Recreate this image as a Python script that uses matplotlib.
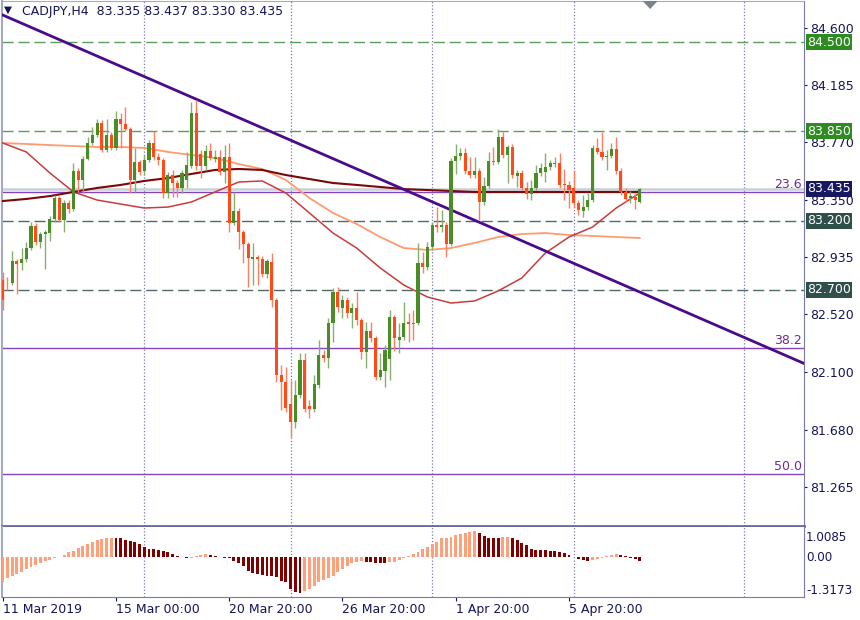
import matplotlib.pyplot as plt
from matplotlib.patches import Polygon

# CADJPY H4 candles, one value per bar (bar 0 = 11 Mar 2019 00:00)
opens = [
    82.770, 82.748, 82.745, 82.908, 82.893, 82.922, 83.002, 83.162, 83.046, 83.104,
    83.111, 83.213, 83.366, 83.206, 83.330, 83.286, 83.562, 83.497, 83.650, 83.766,
    83.824, 83.911, 83.715, 83.824, 83.730, 83.940, 83.904, 83.868, 83.497, 83.628,
    83.562, 83.642, 83.766, 83.664, 83.642, 83.402, 83.533, 83.475, 83.439, 83.497,
    83.599, 83.984, 83.686, 83.599, 83.708, 83.650, 83.664, 83.555, 83.664, 83.184,
    83.271, 83.119, 83.031, 82.922, 82.937, 82.922, 82.813, 82.900, 82.624, 82.079,
    82.028, 81.868, 81.737, 81.933, 82.188, 81.853, 81.831, 82.006, 82.224, 82.202,
    82.457, 82.682, 82.566, 82.624, 82.530, 82.566, 82.479, 82.246, 82.399, 82.348,
    82.064, 82.108, 82.195, 82.501, 82.333, 82.355, 82.464, 82.457, 82.457, 82.893,
    82.864, 83.010, 83.170, 83.155, 83.170, 83.031, 83.635, 83.671, 83.693, 83.562,
    83.533, 83.562, 83.337, 83.453, 83.635, 83.628, 83.810, 83.679, 83.737, 83.526,
    83.548, 83.439, 83.395, 83.439, 83.548, 83.555, 83.592, 83.613, 83.620, 83.468,
    83.461, 83.439, 83.330, 83.271, 83.300, 83.351, 83.730, 83.701, 83.664, 83.671,
    83.722, 83.562, 83.410, 83.366, 83.373, 83.335]
highs = [
    82.828, 82.791, 82.980, 82.922, 83.002, 83.046, 83.191, 83.184, 83.119, 83.133,
    83.235, 83.388, 83.380, 83.351, 83.351, 83.620, 83.584, 83.671, 83.810, 83.882,
    83.940, 83.933, 83.940, 83.846, 83.999, 83.984, 84.028, 83.882, 83.730, 83.642,
    83.679, 83.788, 83.853, 83.693, 83.657, 83.555, 83.570, 83.497, 83.570, 83.701,
    84.064, 84.079, 83.715, 83.751, 83.766, 83.715, 83.715, 83.751, 83.766, 83.410,
    83.293, 83.133, 83.046, 83.039, 82.951, 82.944, 82.922, 82.966, 82.639, 82.151,
    82.137, 82.042, 82.042, 82.239, 82.239, 81.897, 82.079, 82.333, 82.260, 82.493,
    82.711, 82.719, 82.660, 82.646, 82.602, 82.682, 82.493, 82.464, 82.464, 82.362,
    82.239, 82.297, 82.551, 82.515, 82.457, 82.610, 82.530, 82.551, 83.039, 82.973,
    83.046, 83.191, 83.300, 83.279, 83.191, 83.657, 83.759, 83.730, 83.730, 83.664,
    83.664, 83.584, 83.519, 83.701, 83.737, 83.868, 83.846, 83.751, 83.759, 83.570,
    83.570, 83.482, 83.497, 83.606, 83.620, 83.693, 83.642, 83.664, 83.693, 83.577,
    83.490, 83.570, 83.351, 83.388, 83.402, 83.751, 83.802, 83.846, 83.715, 83.766,
    83.810, 83.584, 83.439, 83.417, 83.402, 83.437]
lows = [
    82.551, 82.697, 82.733, 82.668, 82.842, 82.900, 82.988, 83.024, 83.002, 82.850,
    83.053, 83.191, 83.191, 83.119, 83.257, 83.271, 83.410, 83.402, 83.642, 83.751,
    83.810, 83.701, 83.701, 83.715, 83.715, 83.730, 83.853, 83.402, 83.410, 83.533,
    83.533, 83.628, 83.642, 83.606, 83.366, 83.366, 83.373, 83.373, 83.402, 83.439,
    83.584, 83.570, 83.512, 83.570, 83.642, 83.628, 83.533, 83.475, 83.119, 83.170,
    82.995, 82.893, 82.719, 82.733, 82.733, 82.791, 82.784, 82.573, 82.028, 81.824,
    81.810, 81.628, 81.693, 81.911, 81.810, 81.766, 81.810, 81.984, 82.173, 82.130,
    82.319, 82.537, 82.493, 82.493, 82.421, 82.442, 82.195, 82.130, 82.319, 82.042,
    82.042, 81.991, 82.042, 82.253, 82.239, 82.333, 82.319, 82.333, 82.442, 82.820,
    82.842, 82.988, 83.119, 83.119, 82.937, 83.017, 83.540, 83.642, 83.540, 83.512,
    83.512, 83.206, 83.315, 83.439, 83.606, 83.613, 83.657, 83.475, 83.512, 83.446,
    83.424, 83.359, 83.351, 83.424, 83.526, 83.482, 83.570, 83.592, 83.439, 83.351,
    83.293, 83.293, 83.242, 83.228, 83.279, 83.337, 83.686, 83.642, 83.570, 83.657,
    83.540, 83.388, 83.337, 83.330, 83.286, 83.330]
closes = [
    82.624, 82.745, 82.908, 82.886, 82.922, 83.002, 83.162, 83.046, 83.104, 83.119,
    83.213, 83.366, 83.206, 83.330, 83.286, 83.562, 83.497, 83.650, 83.766, 83.824,
    83.911, 83.715, 83.824, 83.730, 83.940, 83.904, 83.868, 83.497, 83.628, 83.555,
    83.642, 83.766, 83.664, 83.642, 83.402, 83.533, 83.475, 83.439, 83.548, 83.606,
    83.984, 83.599, 83.599, 83.708, 83.657, 83.664, 83.555, 83.664, 83.184, 83.271,
    83.119, 83.031, 82.930, 82.937, 82.922, 82.813, 82.908, 82.624, 82.079, 82.028,
    81.839, 81.737, 81.933, 82.188, 81.831, 81.831, 82.013, 82.224, 82.202, 82.457,
    82.682, 82.573, 82.624, 82.530, 82.566, 82.479, 82.246, 82.399, 82.348, 82.064,
    82.115, 82.260, 82.501, 82.348, 82.355, 82.457, 82.450, 82.450, 82.893, 82.864,
    83.010, 83.170, 83.155, 83.170, 83.031, 83.635, 83.671, 83.693, 83.562, 83.533,
    83.562, 83.337, 83.453, 83.635, 83.628, 83.810, 83.679, 83.737, 83.533, 83.548,
    83.439, 83.395, 83.439, 83.548, 83.584, 83.592, 83.620, 83.620, 83.461, 83.461,
    83.424, 83.330, 83.279, 83.300, 83.351, 83.730, 83.701, 83.664, 83.671, 83.722,
    83.562, 83.410, 83.359, 83.380, 83.351, 83.435]

# Awesome Oscillator, one value per bar
ao = [
    -0.83, -0.70, -0.63, -0.55, -0.48, -0.39, -0.33, -0.25, -0.19, -0.13,
    -0.08, -0.03, 0.02, 0.08, 0.17, 0.22, 0.30, 0.39, 0.44, 0.52,
    0.58, 0.61, 0.64, 0.65, 0.64, 0.63, 0.59, 0.55, 0.50, 0.44,
    0.33, 0.28, 0.28, 0.24, 0.22, 0.17, 0.11, 0.06, 0.02, -0.03,
    -0.02, 0.03, 0.08, 0.10, 0.09, 0.06, 0.02, -0.01, -0.03, -0.11,
    -0.19, -0.28, -0.44, -0.52, -0.55, -0.59, -0.61, -0.61, -0.66, -0.78,
    -0.83, -1.05, -1.16, -1.18, -1.11, -1.05, -0.94, -0.83, -0.75, -0.70,
    -0.61, -0.50, -0.39, -0.28, -0.20, -0.14, -0.11, -0.17, -0.17, -0.19,
    -0.19, -0.19, -0.17, -0.14, -0.10, -0.03, 0.03, 0.11, 0.17, 0.28,
    0.33, 0.44, 0.52, 0.63, 0.65, 0.69, 0.74, 0.78, 0.82, 0.85,
    0.86, 0.80, 0.71, 0.63, 0.63, 0.63, 0.66, 0.69, 0.65, 0.57,
    0.48, 0.40, 0.29, 0.26, 0.24, 0.24, 0.22, 0.22, 0.19, 0.13,
    0.08, 0.02, -0.05, -0.09, -0.12, -0.10, -0.05, -0.02, 0.05, 0.08,
    0.11, 0.08, 0.03, -0.02, -0.07, -0.1318]

# moving averages read every 5 bars
ma_idx = list(range(0, 136, 5))
ma_red = [83.766, 83.701, 83.548, 83.410, 83.351, 83.322, 83.293, 83.300, 83.337, 83.410,
          83.482, 83.490, 83.402, 83.257, 83.111, 83.002, 82.857, 82.733, 82.646, 82.602,
          82.617, 82.690, 82.784, 82.966, 83.082, 83.155, 83.293, 83.402]
ma_salmon = [83.766, 83.759, 83.751, 83.744, 83.737, 83.737, 83.730, 83.701, 83.679, 83.657,
             83.613, 83.577, 83.497, 83.366, 83.257, 83.177, 83.082, 83.002, 82.988, 83.002,
             83.039, 83.082, 83.104, 83.111, 83.097, 83.090, 83.082, 83.075]
ma_maroon = [83.344, 83.359, 83.380, 83.410, 83.439, 83.461, 83.490, 83.511, 83.541, 83.570,
             83.577, 83.570, 83.533, 83.504, 83.475, 83.461, 83.446, 83.431, 83.424, 83.417,
             83.410, 83.410, 83.410, 83.410, 83.410, 83.410, 83.410, 83.410]

# levels
green_levels = [84.500, 83.850]
slate_levels = [83.200, 82.700]
fib_levels = [83.410, 82.273, 81.359]
fib_labels = ['23.6', '38.2', '50.0']
last_price = 83.435
trend_pts = [(0, 84.697), (41, 84.085)]

price_ticks = [84.600, 84.185, 83.770, 83.350, 82.935, 82.520, 82.100, 81.680, 81.265]
ao_max, ao_min = 1.0085, -1.3173
date_idx = [0, 24, 48, 72, 96, 120]
date_labels = ['11 Mar 2019', '15 Mar 00:00', '20 Mar 20:00', '26 Mar 20:00',
               '1 Apr 20:00', '5 Apr 20:00']
grid_idx = [30, 61, 91, 121, 157]

navy = '#14145a'
frame = '#7a7aaa'

fig = plt.figure(figsize=(8.6, 6.2), dpi=100)
ax = fig.add_axes([2 / 860, 94 / 620, 802 / 860, 525 / 620])
ao_ax = fig.add_axes([2 / 860, 23 / 620, 802 / 860, 70 / 620], sharex=ax)

xmin, xmax = -0.15, 169.8
ax.set_xlim(xmin, xmax)
ax.set_ylim(80.980, 84.799)

for gx in grid_idx:
    ax.axvline(gx, color='#7c7cb8', lw=0.9, ls=(0, (1, 1.6)), zorder=1)
    ao_ax.axvline(gx, color='#7c7cb8', lw=0.9, ls=(0, (1, 1.6)), zorder=1)

for lv in green_levels:
    ax.axhline(lv, color='#5c9c5c', lw=1, ls=(0, (8, 3.5)), zorder=2)
for lv in slate_levels:
    ax.axhline(lv, color='#4e6b66', lw=1, ls=(0, (8, 3.5)), zorder=2)

ax.axhline(last_price, color='#c9cfd8', lw=1.8, zorder=2)
for lv, lab in zip(fib_levels, fib_labels):
    ax.axhline(lv, color='#8444c0', lw=1, zorder=2)
    ax.annotate(lab, xy=(1, lv), xycoords=('axes fraction', 'data'),
                xytext=(-2, 1), textcoords='offset pixels', ha='right', va='bottom',
                fontsize=9, color='#6a2a9a', zorder=6)

ax.plot(ma_idx, ma_salmon, color='#ff9a70', lw=1.3, zorder=3)
ax.plot(ma_idx, ma_red, color='#c83c3c', lw=1.1, zorder=3)
ax.plot(ma_idx, ma_maroon, color='#7a0808', lw=1.5, zorder=3)

ax.axline(trend_pts[0], trend_pts[1], color='#4b0a8c', lw=2, zorder=4)

# candles
idx = list(range(len(closes)))
for i in idx:
    o, h, l, c = opens[i], highs[i], lows[i], closes[i]
    up = c >= o
    body_c = '#4a8c26' if up else '#ff4a1a'
    wick_c = '#86b070' if up else '#ff7e62'
    ax.vlines(i, l, h, color=wick_c, lw=1, zorder=5)
    ax.bar(i, max(abs(c - o), 0.005), bottom=min(o, c), width=0.66,
           color=body_c, linewidth=0, zorder=6)

# price scale
ax.yaxis.tick_right()
ax.set_yticks(price_ticks)
ax.set_yticklabels(['%.3f' % p for p in price_ticks])
ax.tick_params(axis='y', length=2.5, color=navy, labelcolor=navy, labelsize=9, pad=2)
ax.tick_params(axis='x', bottom=False, labelbottom=False)

def price_box(value, color):
    ax.annotate('%.3f' % value, xy=(1, value), xycoords=('axes fraction', 'data'),
                xytext=(3, 0), textcoords='offset pixels', ha='left', va='center',
                fontsize=9, color='white', zorder=10, annotation_clip=False,
                bbox=dict(boxstyle='square,pad=0.12', fc=color, ec='none'))

for lv in green_levels:
    price_box(lv, '#2e8b22')
for lv in slate_levels:
    price_box(lv, '#2f4f4a')
price_box(last_price, '#181860')

# chart shift marker
ax.add_patch(Polygon([(135.6, 84.799), (138.8, 84.799), (137.2, 84.741)],
                     closed=True, fc='#7a848e', ec='none', clip_on=False, zorder=10))

for side in ['top', 'left']:
    ax.spines[side].set_color('#a4aac4')
ax.spines['left'].set_linewidth(1.5)
ax.spines['right'].set_color(frame)
ax.spines['bottom'].set_color('#6a6a9c')
ax.spines['bottom'].set_linewidth(2)

# AO pane
ao_colors = ['#ffa07a' if k == 0 or ao[k] > ao[k - 1] else '#800000' for k in range(len(ao))]
ao_ax.bar(idx, ao, width=0.62, color=ao_colors, linewidth=0, zorder=3)
ao_ax.set_ylim(ao_min, ao_max)
ao_ax.set_yticks([])
ao_ax.set_xticks(date_idx)
ao_ax.set_xticklabels(date_labels, ha='left')
ao_ax.tick_params(axis='x', length=3, color=navy, labelcolor=navy, labelsize=9, pad=1.5)
zero_frac = -ao_min / (ao_max - ao_min)
for lab, fy in [('%.4f' % ao_max, 0.857), ('0.00', zero_frac), ('%.4f' % ao_min, 0.10)]:
    ao_ax.annotate(lab, xy=(1, fy), xycoords='axes fraction', xytext=(2, 0),
                   textcoords='offset pixels', ha='left', va='center',
                   fontsize=8.6, color=navy, annotation_clip=False)
ao_ax.text(3, 0.86, 'AO -0.1318', transform=ao_ax.get_yaxis_transform(),
           fontsize=9, color=navy, va='center')
ao_ax.spines['top'].set_visible(False)
ao_ax.spines['left'].set_color('#a4aac4')
ao_ax.spines['left'].set_linewidth(1.5)
ao_ax.spines['right'].set_color(frame)
ao_ax.spines['bottom'].set_color(frame)
ao_ax.set_xlim(xmin, xmax)

# title
fig.text(4 / 860, 1 - 10 / 620, '\u25bc', fontsize=7.5, color=navy, va='center')
fig.text(22 / 860, 1 - 11.5 / 620, 'CADJPY,H4  83.335 83.437 83.330 83.435',
         fontsize=9, color=navy, va='center')

fig.savefig('out.png', dpi=100)
